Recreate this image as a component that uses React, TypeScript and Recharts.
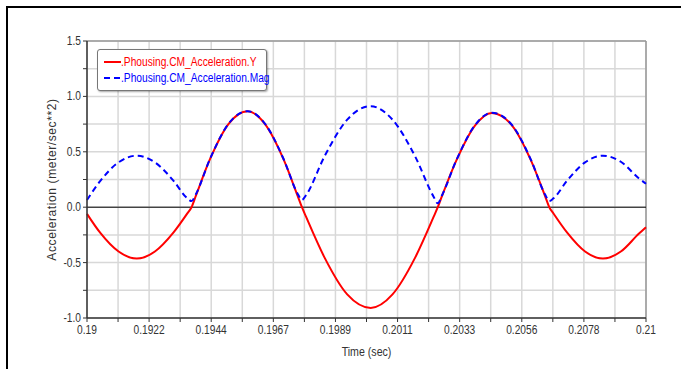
import React from 'react'
import { LineChart, Line, XAxis, YAxis, CartesianGrid, ReferenceLine } from 'recharts'

// samples (time in sec, acceleration in meter/sec**2)
const time = [
  0.19, 0.19047, 0.19113, 0.19178, 0.19243, 0.19309, 0.19359, 0.19374, 0.19389, 0.1944, 0.19506, 0.19575,
  0.19637, 0.19703, 0.19754, 0.19769, 0.19784, 0.1985, 0.19931, 0.20015, 0.20093, 0.20174, 0.2024, 0.20255,
  0.2027, 0.20322, 0.20388, 0.20448, 0.20521, 0.20588, 0.20639, 0.20654, 0.20669, 0.20718, 0.20782, 0.20846,
  0.2091, 0.20974, 0.21,
]
const accY = [
  -0.06, -0.23, -0.4, -0.463, -0.4, -0.23, -0.056, 0.0, 0.1, 0.433, 0.75, 0.866,
  0.75, 0.433, 0.1, 0.0, -0.088, -0.455, -0.787, -0.909, -0.787, -0.455, -0.088, 0.0,
  0.1, 0.425, 0.737, 0.851, 0.737, 0.425, 0.1, 0.0, -0.057, -0.23, -0.4, -0.463,
  -0.4, -0.24, -0.18,
]
const accMag = [
  0.065, 0.235, 0.405, 0.465, 0.405, 0.24, 0.08, 0.055, 0.115, 0.435, 0.752, 0.867,
  0.752, 0.437, 0.12, 0.065, 0.11, 0.46, 0.79, 0.912, 0.79, 0.458, 0.095, 0.035,
  0.106, 0.427, 0.74, 0.853, 0.74, 0.43, 0.114, 0.055, 0.08, 0.24, 0.405, 0.465,
  0.41, 0.262, 0.212,
]

// labelled x ticks (9 equal steps) and the minor ones between them
const xMajor = [0.19, 0.192222, 0.194444, 0.196667, 0.198889, 0.201111, 0.203333, 0.205556, 0.207778, 0.21]
const xMinor = [0.191111, 0.193333, 0.195556, 0.197778, 0.2, 0.202222, 0.204444, 0.206667, 0.208889]
const yTicks = [-1, -0.75, -0.5, -0.25, 0, 0.25, 0.5, 0.75, 1, 1.25, 1.5]

const seriesY = '.Phousing.CM_Acceleration.Y'
const seriesMag = '.Phousing.CM_Acceleration.Mag'

const data = time.map((t, i) => ({ t, y: accY[i], mag: accMag[i] }))
const xTicks = [...xMajor, ...xMinor].sort((a, b) => a - b)

const font = '"Liberation Sans", Arial, sans-serif'
const narrow = 0.85 // the original uses a condensed face

const XTick = ({ x, y, payload }: any) => {
  if (!xMajor.some((v) => Math.abs(v - payload.value) < 1e-7)) return null
  return (
    <text transform={`translate(${x},${y + 10}) scale(${narrow},1)`} textAnchor="middle" fontSize={12} fill="#333" fontFamily={font}>
      {Number(payload.value.toFixed(4)).toString()}
    </text>
  )
}

const YTick = ({ x, y, payload }: any) => {
  if (Math.abs(payload.value * 2 - Math.round(payload.value * 2)) > 1e-7) return null
  return (
    <text transform={`translate(${x},${y + 4}) scale(${narrow},1)`} textAnchor="end" fontSize={12} fill="#333" fontFamily={font}>
      {payload.value.toFixed(1)}
    </text>
  )
}

const XTitle = ({ viewBox }: any) => {
  const cx = viewBox.x + viewBox.width / 2
  return (
    <text transform={`translate(${cx},${viewBox.y + 38}) scale(${narrow},1)`} textAnchor="middle" fontSize={12.5} fill="#333" fontFamily={font}>
      Time (sec)
    </text>
  )
}

const App = () => {
  return (
    <div
      style={{
        position: 'absolute',
        left: 0,
        top: 0,
        width: 681,
        height: 369,
        background: '#fff',
        overflow: 'hidden',
        fontFamily: font,
      }}
    >
      {/* window frame */}
      <div
        style={{
          position: 'absolute',
          left: 6,
          top: 6,
          width: 700,
          height: 400,
          borderTop: '2px solid #000',
          borderLeft: '2px solid #000',
        }}
      />

      <LineChart width={681} height={369} data={data} margin={{ top: 41, right: 35, bottom: 21, left: 47 }}>
        <CartesianGrid stroke="#d8d8d8" strokeWidth={1.5} />
        <XAxis
          dataKey="t"
          type="number"
          domain={[0.19, 0.21]}
          ticks={xTicks}
          interval={0}
          height={30}
          tick={<XTick />}
          tickSize={4}
          tickLine={{ stroke: '#333' }}
          axisLine={{ stroke: '#333', strokeWidth: 1.5 }}
          label={<XTitle />}
        />
        <YAxis
          type="number"
          domain={[-1, 1.5]}
          ticks={yTicks}
          interval={0}
          width={40}
          tick={<YTick />}
          tickSize={4}
          tickLine={{ stroke: '#333' }}
          axisLine={{ stroke: '#333', strokeWidth: 1.5 }}
          label={{
            value: 'Acceleration (meter/sec**2)',
            angle: -90,
            position: 'insideLeft',
            offset: 5,
            fontSize: 12,
            fill: '#333',
            style: { textAnchor: 'middle', letterSpacing: 0.6 },
          }}
        />
        <ReferenceLine y={1.5} stroke="#999" strokeWidth={1.5} />
        <ReferenceLine x={0.21} stroke="#999" strokeWidth={1.5} />
        <ReferenceLine y={0} stroke="#000" strokeWidth={1} />
        <Line
          type="monotone"
          dataKey="y"
          name={seriesY}
          stroke="#ff0000"
          strokeWidth={2}
          dot={false}
          isAnimationActive={false}
        />
        <Line
          type="monotone"
          dataKey="mag"
          name={seriesMag}
          stroke="#0000ff"
          strokeWidth={2}
          strokeDasharray="6 4"
          dot={false}
          isAnimationActive={false}
        />
      </LineChart>

      {/* legend box */}
      <div
        style={{
          position: 'absolute',
          left: 97,
          top: 49,
          width: 168,
          height: 40,
          border: '1px solid #777',
          borderRadius: 3,
          background: '#fff',
          boxShadow: '1px 1px 2px rgba(0,0,0,0.35)',
          fontSize: 12,
        }}
      >
        <div style={{ position: 'absolute', left: 6, top: 5, display: 'flex', alignItems: 'center', color: '#ff0000', whiteSpace: 'nowrap' }}>
          <svg width={17} height={4}>
            <line x1={0} y1={2} x2={17} y2={2} stroke="#ff0000" strokeWidth={2} />
          </svg>
          <span style={{ display: 'inline-block', transform: `scaleX(${narrow})`, transformOrigin: 'left center' }}>{seriesY}</span>
        </div>
        <div style={{ position: 'absolute', left: 6, top: 21, display: 'flex', alignItems: 'center', color: '#0000ff', whiteSpace: 'nowrap' }}>
          <svg width={17} height={4}>
            <line x1={0} y1={2} x2={17} y2={2} stroke="#0000ff" strokeWidth={2} strokeDasharray="6 4" />
          </svg>
          <span style={{ display: 'inline-block', transform: `scaleX(${narrow})`, transformOrigin: 'left center' }}>{seriesMag}</span>
        </div>
      </div>
    </div>
  )
}

export default App
